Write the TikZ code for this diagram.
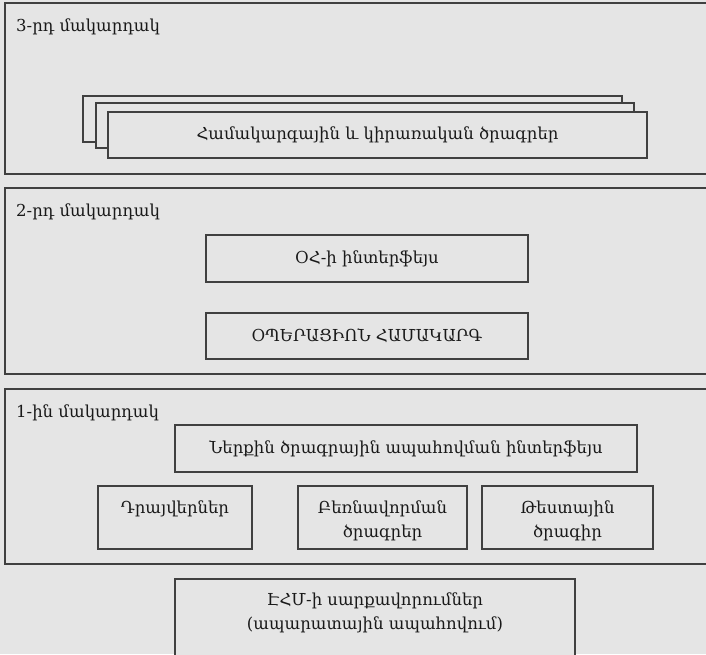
\documentclass[tikz,border=0pt]{standalone}
\usepackage{fontspec}
\setmainfont{DejaVu Serif}
\usetikzlibrary{fit}
\definecolor{bggray}{HTML}{E5E5E5}
\definecolor{edge}{HTML}{404040}
\begin{document}
\begin{tikzpicture}[x=1pt,y=-1pt,
  layerframe/.style={draw=edge, line width=1.8pt, inner sep=0pt},
  unit/.style={draw=edge, line width=1.3pt, fill=bggray, inner sep=0pt},
  caption/.style={font=\fontsize{16.5}{24}\selectfont, inner sep=0pt, align=center, text=black!90},
  levelname/.style={caption, anchor=west}]
% page and background
\fill[bggray] (0,0) rectangle (706,654);
\clip (0,0) rectangle (706,654);

% three levels (their right sides run past the page edge)
\node[layerframe, fit={(5,3)(725,174)}] (lvl3) {};
\node[layerframe, fit={(5,188)(725,374)}] (lvl2) {};
\node[layerframe, fit={(5,389)(725,564)}] (lvl1) {};

\node[levelname] (lvl3name) at (16,27) {3-րդ մակարդակ};
\node[levelname] (lvl2name) at (16,212) {2-րդ մակարդակ};
\node[levelname] (lvl1name) at (16,413) {1-ին մակարդակ};

% level 3: stack of application programs
\node[unit, fit={(83,96)(622,142)}] (appsback) {};
\node[unit, fit={(96,103)(634,148)}] (appsmid) {};
\node[unit, fit={(108,112)(647,158)}] (apps) {};
\node[caption] (appstext) at (apps.center) {Համակարգային և կիրառական ծրագրեր};

% level 2: operating system
\node[unit, fit={(206,235)(528,282)}] (osif) {};
\node[caption] (osiftext) at (osif.center) {ՕՀ-ի ինտերֆեյս};
\node[unit, fit={(206,313)(528,359)}] (os) {};
\node[caption] (ostext) at (os.center) {ՕՊԵՐԱՑԻՈՆ ՀԱՄԱԿԱՐԳ};

% level 1: firmware
\node[unit, fit={(175,425)(637,472)}] (fwif) {};
\node[caption] (fwiftext) at (fwif.center) {Ներքին ծրագրային ապահովման ինտերֆեյս};
\node[unit, fit={(98,486)(252,549)}] (drv) {};
\node[caption, anchor=north] (drvtext) at ([yshift=-15pt]drv.north) {Դրայվերներ};
\node[unit, fit={(298,486)(467,549)}] (boot) {};
\node[caption, anchor=north] (boottext) at ([yshift=-15pt]boot.north) {Բեռնավորման\\ծրագրեր};
\node[unit, fit={(482,486)(653,549)}] (test) {};
\node[caption, anchor=north] (testtext) at ([yshift=-15pt]test.north) {Թեստային\\ծրագիր};

% hardware (runs past the bottom edge)
\node[unit, fit={(175,579)(575,680)}] (hw) {};
\node[caption, anchor=north] (hwtext) at ([yshift=-14pt]hw.north) {ԷՀՄ-ի սարքավորումներ\\(ապարատային ապահովում)};
\end{tikzpicture}
\end{document}
